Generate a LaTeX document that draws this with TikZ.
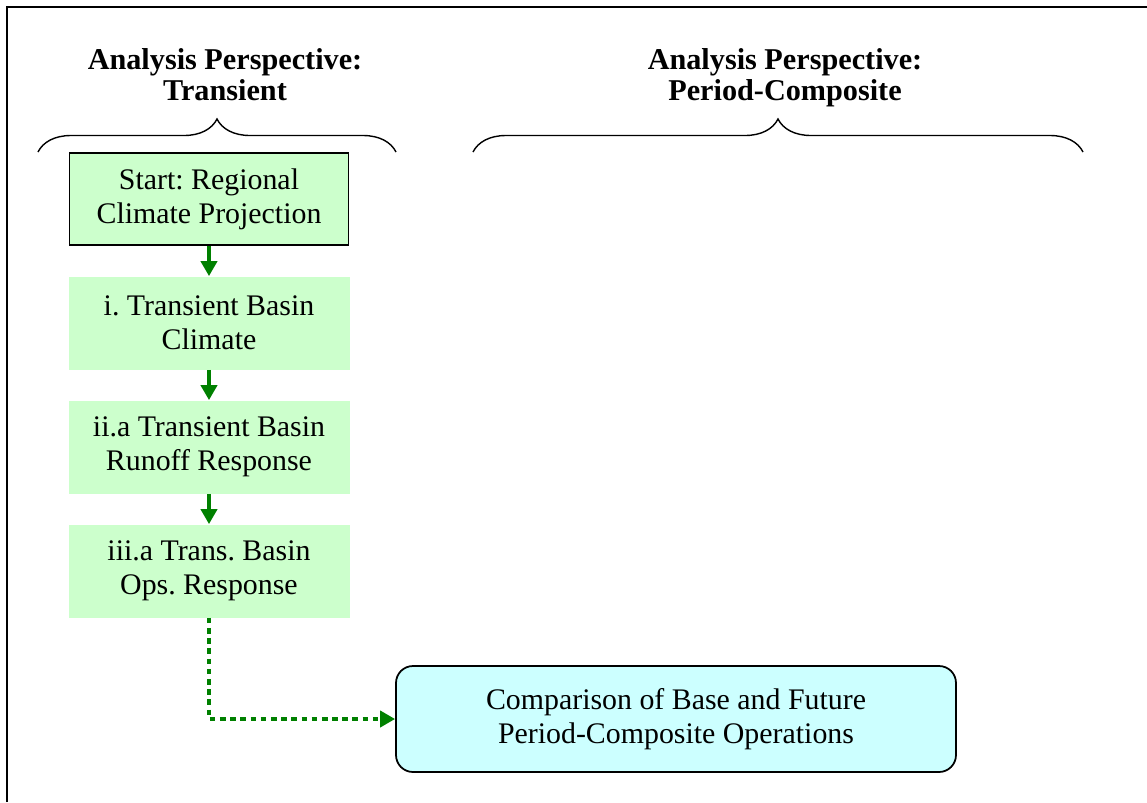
\documentclass[tikz,border=0pt]{standalone}
\usepackage{fontspec}
\setmainfont{Liberation Serif}
\usetikzlibrary{positioning,arrows.meta,decorations.pathreplacing}
\frenchspacing

\definecolor{boxgreen}{RGB}{204,255,204}
\definecolor{boxcyan}{RGB}{204,255,255}
\definecolor{flowgreen}{RGB}{0,128,0}

\tikzstyle{startblock} = [draw, line width=1pt, fill=boxgreen, rectangle,
    align=center, minimum height=1.84cm, minimum width=5.58cm]
\tikzstyle{block} = [fill=boxgreen, rectangle, align=center,
    minimum height=1.86cm, minimum width=5.62cm]
\tikzstyle{result} = [draw, line width=1pt, fill=boxcyan, rounded corners=0.34cm,
    align=center, minimum height=2.12cm, minimum width=11.2cm]
\tikzstyle{heading} = [align=center, font=\fontsize{17.2}{17.8}\selectfont\bfseries]
\tikzstyle{flow} = [color=flowgreen, line width=2.2pt, ->]
\tikzstyle{flowdotted} = [flow, line width=2.6pt, dash pattern=on 3.2pt off 2.6pt]
\tikzstyle{perspective} = [draw, line width=0.8pt, decorate,
    decoration={brace, amplitude=0.66cm}]

\begin{document}
\begin{tikzpicture}[node distance=2.48cm, >={Triangle[length=0.3cm,width=0.32cm]},
    every node/.style={font=\fontsize{17}{19.4}\selectfont}]
    \useasboundingbox (0,0) rectangle (22.94,-16.04);
    % frame, cut off on the right and at the bottom
    \draw [line width=1.2pt] (0.14,-16.04) -- (0.14,-0.14) -- (22.94,-0.14);

    % the two perspectives
    \node [heading] (transhead) at (4.50,-1.55) {Analysis Perspective:\\Transient\vphantom{p}};
    \node [heading] (comphead) at (15.70,-1.55) {Analysis Perspective:\\Period-Composite};
    \draw [perspective] (0.76,-3.04) -- (7.92,-3.04);
    \draw [perspective] (9.46,-3.04) -- (21.66,-3.04);

    % transient chain
    \node [startblock] (start) at (4.18,-3.98) {Start: Regional\\Climate Projection};
    \node [block, below of=start] (climate) {i. Transient Basin\\Climate};
    \node [block, below of=climate] (runoff) {ii.a Transient Basin\\Runoff Response};
    \node [block, below of=runoff] (ops) {iii.a Trans. Basin\\Ops. Response};
    \node [result] (compare) at (13.52,-14.38)
        {Comparison of Base and Future\\Period-Composite Operations};

    \draw [flow] (start) -- (climate);
    \draw [flow] (climate) -- (runoff);
    \draw [flow] (runoff) -- (ops);
    \draw [flowdotted] (ops) |- (compare);
\end{tikzpicture}
\end{document}
